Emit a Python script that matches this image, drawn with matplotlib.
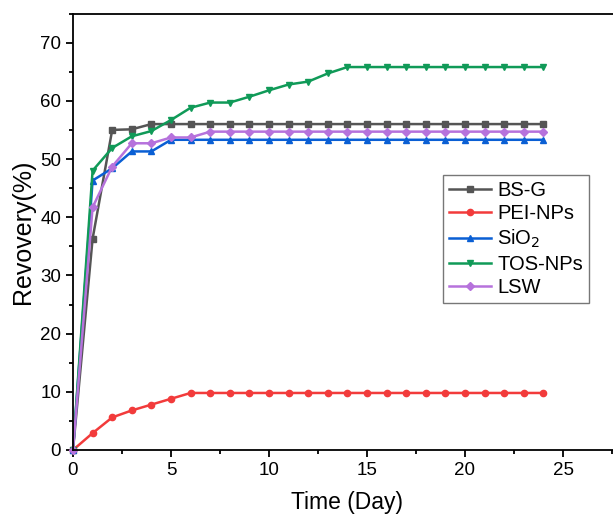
import numpy as np
import matplotlib
matplotlib.use("Agg")
import matplotlib.pyplot as plt
from matplotlib.ticker import MultipleLocator

plt.rcParams["font.family"] = ["Liberation Sans", "DejaVu Sans"]

# Time axis (days)
days = list(range(0, 25))

# Recovery (%) per material
bs_g = [0, 36.3, 55.0, 55.1, 56.0] + [56.0] * 20
pei_nps = [0, 2.9, 5.6, 6.8, 7.8, 8.8, 9.8] + [9.8] * 18
sio2 = [0, 46.3, 48.4, 51.3, 51.3, 53.3] + [53.3] * 19
tos_nps = [0, 48.0, 51.9, 53.9, 54.8, 56.7, 58.8, 59.7, 59.7, 60.7,
           61.8, 62.8, 63.3, 64.7] + [65.8] * 11
lsw = [0, 41.7, 48.7, 52.7, 52.7, 53.7, 53.7] + [54.7] * 18

series_names = ["BS-G", "PEI-NPs", "SiO$_2$", "TOS-NPs", "LSW"]
series_values = [bs_g, pei_nps, sio2, tos_nps, lsw]
colors = ["#555555", "#f23b3b", "#0a5fd4", "#109a58", "#b672dc"]
markers = ["s", "o", "^", "v", "D"]
msizes = [4.5, 4.5, 4.5, 5, 4]

fig = plt.figure(figsize=(6.13, 5.17), dpi=100)
ax = fig.add_axes([73 / 613, 67 / 517, 28 * 19.6 / 613, 436.5 / 517])

for name, vals, c, m, ms in zip(series_names, series_values, colors, markers, msizes):
    ax.plot(days, vals, color=c, marker=m, markersize=ms, linewidth=1.8,
            label=name, clip_on=False)

ax.set_xlim(0, 28)
ax.set_ylim(0, 75)
ax.xaxis.set_major_locator(MultipleLocator(5))
ax.xaxis.set_minor_locator(MultipleLocator(2.5))
ax.yaxis.set_major_locator(MultipleLocator(10))
ax.yaxis.set_minor_locator(MultipleLocator(5))
ax.tick_params(which="major", direction="out", length=5, width=1.3, labelsize=13.5)
ax.tick_params(which="minor", direction="out", length=3, width=1.3)
for sp in ax.spines.values():
    sp.set_linewidth(1.3)

ax.set_xlabel("Time (Day)", fontsize=16.5, labelpad=9)
ax.set_ylabel("Revovery(%)", fontsize=18, labelpad=4)

leg = ax.legend(loc="upper left", bbox_to_anchor=(0.674, 0.63), fontsize=14.5,
                frameon=True, fancybox=False, edgecolor="#555555",
                handlelength=2.1, handletextpad=0.3, borderpad=0.3,
                labelspacing=0.22, borderaxespad=0)
leg.get_frame().set_linewidth(1.0)

fig.savefig("out.png", dpi=100)
